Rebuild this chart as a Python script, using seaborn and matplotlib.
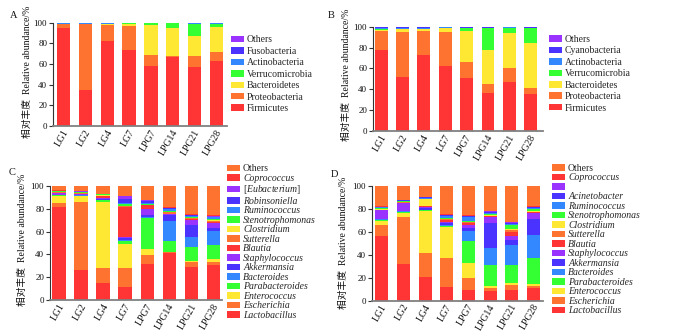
import matplotlib
matplotlib.use('Agg')
import matplotlib.pyplot as plt
import matplotlib.transforms as mtransforms
import seaborn as sns
import numpy as np
from matplotlib.patches import Patch

# ---------------- data ----------------
groups = ['LG1', 'LG2', 'LG4', 'LG7', 'LPG7', 'LPG14', 'LPG21', 'LPG28']

# Panel A (phylum, bottom -> top)
a_taxa = ['Firmicutes', 'Proteobacteria', 'Bacteroidetes', 'Verrucomicrobia',
          'Actinobacteria', 'Fusobacteria', 'Others']
a_firmicutes      = [94.5, 34.8, 82.3, 73.6, 58.0, 66.5, 57.0, 62.6]
a_proteobacteria  = [4.5, 64.0, 15.0, 22.8, 10.7, 1.5, 11.0, 9.3]
a_bacteroidetes   = [0.0, 0.2, 1.9, 2.8, 29.0, 27.2, 19.4, 24.2]
a_verrucomicrobia = [0.0, 0.0, 0.0, 0.2, 1.6, 4.8, 11.3, 2.6]
a_actinobacteria  = [0.7, 0.3, 0.3, 0.5, 0.4, 0.0, 1.3, 1.0]
a_fusobacteria    = [0.3, 0.0, 0.0, 0.1, 0.3, 0.0, 0.0, 0.3]
a_others          = [0.0, 0.7, 0.5, 0.0, 0.0, 0.0, 0.0, 0.0]

# Panel B (phylum, bottom -> top)
b_taxa = ['Firmicutes', 'Proteobacteria', 'Bacteroidetes', 'Verrucomicrobia',
          'Actinobacteria', 'Cyanobacteria', 'Others']
b_firmicutes      = [77.5, 52.0, 73.0, 62.3, 51.0, 36.7, 47.3, 35.2]
b_proteobacteria  = [18.5, 43.0, 23.0, 32.3, 15.5, 8.1, 13.4, 6.0]
b_bacteroidetes   = [1.0, 2.5, 1.5, 4.0, 29.7, 32.9, 33.3, 43.2]
b_verrucomicrobia = [0.5, 0.3, 0.3, 0.3, 2.5, 21.0, 4.5, 14.0]
b_actinobacteria  = [1.0, 0.7, 0.7, 0.7, 0.3, 0.3, 1.0, 0.3]
b_cyanobacteria   = [1.2, 1.2, 1.2, 0.2, 0.3, 0.3, 0.3, 0.8]
b_others          = [0.3, 0.3, 0.3, 0.2, 0.7, 0.7, 0.2, 0.5]

# Panel C (genus, bottom -> top)
c_taxa = ['Lactobacillus', 'Escherichia', 'Enterococcus', 'Parabacteroides',
          'Bacteroides', 'Akkermansia', 'Staphylococcus', 'Blautia', 'Sutterella',
          'Clostridium', 'Stenotrophomonas', 'Ruminococcus', 'Robinsoniella',
          '[Eubacterium]', 'Coprococcus', 'Others']
c_lactobacillus    = [81.5, 26.3, 14.7, 11.3, 31.6, 41.3, 28.7, 31.0]
c_escherichia      = [3.5, 60.0, 13.3, 16.7, 7.8, 0.7, 4.6, 2.3]
c_enterococcus     = [6.5, 5.0, 57.8, 21.2, 5.0, 0.3, 1.2, 2.9]
c_parabacteroides  = [0.3, 0.3, 1.5, 2.2, 27.5, 9.8, 11.7, 11.8]
c_bacteroides      = [0.2, 0.2, 0.5, 0.8, 0.5, 17.5, 8.8, 12.3]
c_akkermansia      = [0.5, 0.5, 0.5, 1.8, 2.5, 5.0, 10.5, 2.9]
c_staphylococcus   = [1.2, 0.8, 1.5, 1.2, 5.0, 0.7, 5.0, 4.3]
c_blautia          = [0.3, 0.3, 1.0, 26.5, 3.0, 0.5, 0.5, 0.7]
c_sutterella       = [0.3, 0.5, 0.5, 0.5, 0.3, 1.5, 0.5, 1.5]
c_clostridium      = [0.5, 0.3, 0.5, 0.5, 0.3, 0.3, 0.5, 0.5]
c_stenotrophomonas = [0.5, 0.5, 0.8, 1.7, 0.5, 0.5, 0.8, 1.0]
c_ruminococcus     = [0.2, 0.2, 0.2, 0.8, 1.5, 1.5, 0.8, 1.5]
c_robinsoniella    = [0.2, 0.2, 0.2, 3.5, 1.2, 1.0, 0.6, 0.5]
c_eubacterium      = [0.2, 0.2, 0.2, 2.3, 0.8, 0.3, 0.5, 0.5]
c_coprococcus      = [0.2, 0.2, 0.2, 0.3, 0.3, 0.5, 1.0, 1.2]
c_others           = [3.9, 4.5, 6.6, 8.7, 12.2, 18.6, 24.3, 25.1]

# Panel D (genus, bottom -> top)
d_taxa = ['Lactobacillus', 'Escherichia', 'Enterococcus', 'Parabacteroides',
          'Bacteroides', 'Akkermansia', 'Staphylococcus', 'Blautia', 'Sutterella',
          'Clostridium', 'Stenotrophomonas', 'Ruminococcus', 'Acinetobacter',
          '', 'Coprococcus', 'Others']
d_lactobacillus    = [56.3, 32.0, 21.0, 12.2, 9.5, 8.5, 9.5, 11.0]
d_escherichia      = [10.2, 41.2, 20.4, 24.8, 10.3, 2.5, 3.9, 2.2]
d_enterococcus     = [3.5, 3.5, 36.6, 27.7, 12.8, 1.8, 2.1, 1.8]
d_parabacteroides  = [0.8, 0.8, 1.0, 1.0, 19.3, 18.4, 16.0, 22.5]
d_bacteroides      = [0.3, 0.5, 0.3, 0.5, 9.0, 14.6, 17.5, 20.2]
d_akkermansia      = [0.5, 0.5, 1.3, 1.5, 3.0, 21.8, 4.4, 14.0]
d_staphylococcus   = [7.5, 7.0, 1.5, 1.5, 2.5, 5.8, 2.9, 5.0]
d_blautia          = [0.2, 0.3, 0.5, 1.5, 1.5, 0.5, 3.5, 0.5]
d_sutterella       = [0.2, 0.3, 0.5, 0.5, 0.5, 0.4, 2.2, 0.5]
d_clostridium      = [0.5, 0.5, 5.8, 0.5, 0.5, 0.3, 0.5, 0.8]
d_stenotrophomonas = [1.0, 0.5, 0.3, 0.5, 1.0, 1.2, 3.5, 1.5]
d_ruminococcus     = [0.5, 0.3, 0.3, 2.0, 3.5, 0.5, 1.0, 1.0]
d_acinetobacter    = [0.3, 0.2, 0.8, 0.3, 0.5, 1.0, 1.2, 0.7]
d_unnamed          = [0.2, 0.2, 0.2, 0.2, 0.2, 1.2, 0.5, 0.3]
d_coprococcus      = [0.5, 0.2, 0.2, 0.8, 0.8, 0.3, 0.5, 1.0]
d_others           = [17.5, 12.0, 9.3, 24.5, 25.1, 21.2, 30.8, 17.0]

y_label_text = '相对丰度  Relative abundance/%'
panel_letters = ['A', 'B', 'C', 'D']

# ---------------- style ----------------
RED, ORANGE, YELLOW, GREEN = '#FF3434', '#FF7331', '#FFE834', '#33FF33'
BLUE, INDIGO, PURPLE = '#3388FF', '#4A33FF', '#9A33FF'
phylum_colors = [RED, ORANGE, YELLOW, GREEN, BLUE, INDIGO, PURPLE]
genus_colors = [RED, ORANGE, YELLOW, GREEN, BLUE, INDIGO, PURPLE,
                RED, ORANGE, YELLOW, GREEN, BLUE, INDIGO, PURPLE, RED, ORANGE]

sns.set_theme(style='ticks')
plt.rcParams['font.family'] = ['Liberation Serif', 'Noto Sans CJK SC', 'DejaVu Sans']
plt.rcParams['mathtext.fontset'] = 'custom'
plt.rcParams['mathtext.it'] = 'Liberation Serif:italic'
plt.rcParams['mathtext.rm'] = 'Liberation Serif'

W, H = 700, 336
fig = plt.figure(figsize=(7.0, 3.36), dpi=100)


def rect(l, r, top, bottom):
    return [l / W, 1 - bottom / H, (r - l) / W, (bottom - top) / H]


def draw_panel(axrect, xlim, series, colors, labels, leg_xy, italic, leg_fs,
               leg_spacing, ylab_xy, letter_xy, letter):
    ax = fig.add_axes(axrect)
    cum = np.cumsum(np.array(series, dtype=float), axis=0)
    for i in range(len(series) - 1, -1, -1):
        sns.barplot(x=groups, y=cum[i], color=colors[i], width=0.6,
                    saturation=1, errorbar=None, ax=ax, linewidth=0,
                    edgecolor='none')
    ax.set_xlim(*xlim)
    ax.set_ylim(0, 100)
    ax.set_yticks([0, 20, 40, 60, 80, 100])
    ax.set_xlabel('')
    ax.set_ylabel('')
    sns.despine(ax=ax)
    ax.spines['left'].set_color('#333333')
    ax.spines['left'].set_linewidth(0.8)
    ax.spines['bottom'].set_color('#808080')
    ax.spines['bottom'].set_linewidth(1.3)
    ax.tick_params(axis='y', length=3, width=0.8, color='#333333',
                   labelsize=6.5, pad=1.2, labelcolor='#111111')
    ax.tick_params(axis='x', length=0, labelsize=7, pad=3, labelcolor='#111111')
    offset = mtransforms.ScaledTranslation(3 / 100, 0, fig.dpi_scale_trans)
    for t in ax.get_xticklabels():
        t.set_rotation(60)
        t.set_ha('right')
        t.set_va('center')
        t.set_rotation_mode('anchor')
        t.set_transform(t.get_transform() + offset)

    handles = [Patch(facecolor=colors[i], edgecolor='none')
               for i in range(len(series) - 1, -1, -1)]
    labs = [labels[i] for i in range(len(series) - 1, -1, -1)]
    leg = fig.legend(handles, labs, loc='upper left',
                     bbox_to_anchor=(leg_xy[0] / W, 1 - leg_xy[1] / H),
                     bbox_transform=fig.transFigure, frameon=False,
                     borderpad=0, borderaxespad=0, handlelength=1.35,
                     handleheight=0.65, handletextpad=0.3,
                     labelspacing=leg_spacing, fontsize=leg_fs)
    for t in leg.get_texts():
        s = t.get_text()
        if italic and s not in ('Others',):
            if s.startswith('['):
                t.set_text(r'[$\mathit{' + s.strip('[]') + '}$]')
            else:
                t.set_fontstyle('italic')

    fig.text(ylab_xy[0] / W, 1 - ylab_xy[1] / H, y_label_text, rotation=90,
             ha='center', va='center', fontsize=7, color='#111111')
    fig.text(letter_xy[0] / W, 1 - letter_xy[1] / H, letter, ha='center',
             va='center', fontsize=7.5, color='#111111')
    return ax


a_series = [a_firmicutes, a_proteobacteria, a_bacteroidetes, a_verrucomicrobia,
            a_actinobacteria, a_fusobacteria, a_others]
b_series = [b_firmicutes, b_proteobacteria, b_bacteroidetes, b_verrucomicrobia,
            b_actinobacteria, b_cyanobacteria, b_others]
c_series = [c_lactobacillus, c_escherichia, c_enterococcus, c_parabacteroides,
            c_bacteroides, c_akkermansia, c_staphylococcus, c_blautia,
            c_sutterella, c_clostridium, c_stenotrophomonas, c_ruminococcus,
            c_robinsoniella, c_eubacterium, c_coprococcus, c_others]
d_series = [d_lactobacillus, d_escherichia, d_enterococcus, d_parabacteroides,
            d_bacteroides, d_akkermansia, d_staphylococcus, d_blautia,
            d_sutterella, d_clostridium, d_stenotrophomonas, d_ruminococcus,
            d_acinetobacter, d_unnamed, d_coprococcus, d_others]

draw_panel(rect(53, 227, 22.7, 126), (-0.47, 7.47), a_series, phylum_colors,
           a_taxa, (231, 35.5), False, 7, 0.25, (27, 72), (14, 16),
           panel_letters[0])
draw_panel(rect(373, 543, 26.7, 131), (-0.38, 7.57), b_series, phylum_colors,
           b_taxa, (549, 35), False, 7, 0.25, (346, 75), (331, 16),
           panel_letters[1])
draw_panel(rect(50, 222, 186, 300), (-0.41, 7.4), c_series, genus_colors,
           c_taxa, (227, 164.5), True, 7, 0.05, (22, 240), (12, 173),
           panel_letters[2])
draw_panel(rect(372, 543, 186.3, 300.7), (-0.46, 7.45), d_series, genus_colors,
           d_taxa, (552, 164), True, 7, 0.05, (343, 243), (334, 174.5),
           panel_letters[3])

fig.savefig('out.png', dpi=100, facecolor='white')
